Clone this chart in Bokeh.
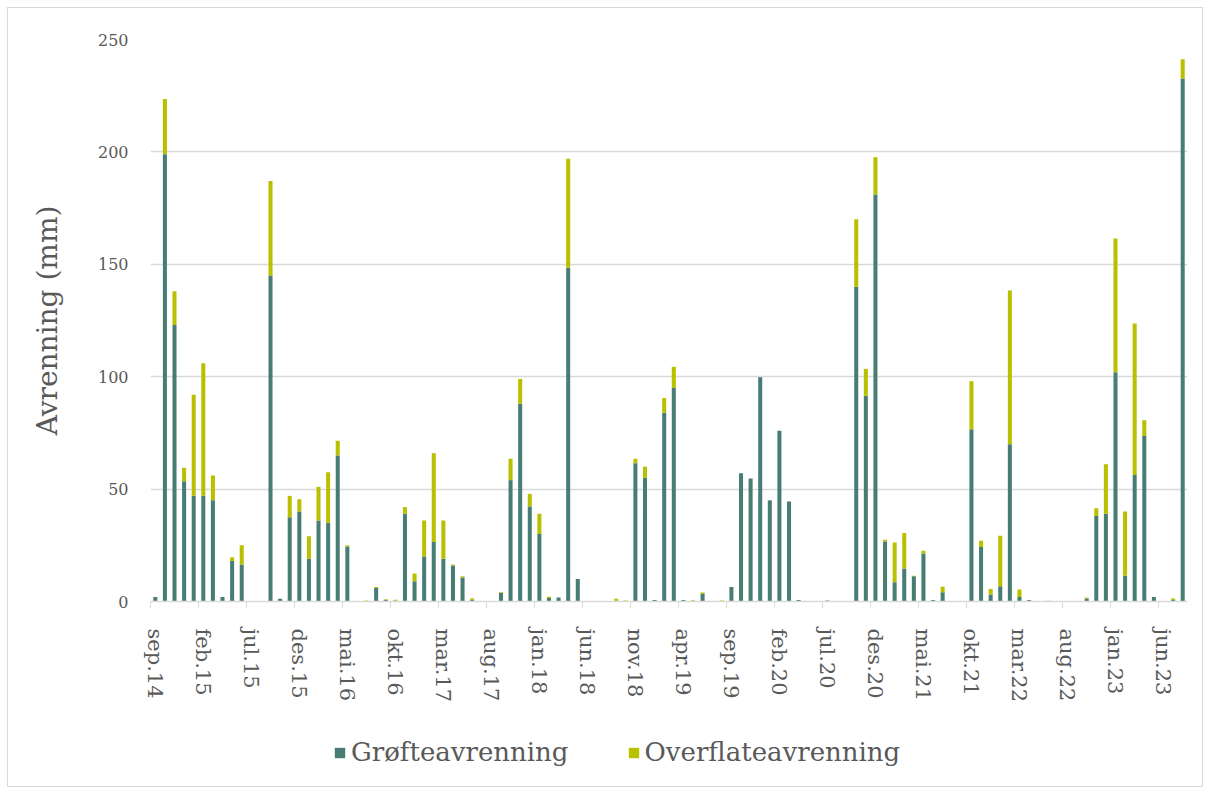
from bokeh.plotting import figure
from bokeh.layouts import column
from bokeh.models import Range1d, FixedTicker, Legend, LegendItem, ColumnDataSource
from bokeh.embed import file_html
from bokeh.resources import INLINE

# Monthly runoff (mm), sep.14 .. aug.23 (108 months)
grofte = [
    2.0, 199.0, 123.0, 53.5, 47.0, 47.0, 45.0, 2.0, 18.0, 16.5,
    0.0, 0.0, 145.0, 1.2, 37.5, 40.0, 19.0, 36.0, 35.0, 65.0,
    24.5, 0.0, 0.0, 6.0, 0.8, 0.5, 39.0, 9.0, 20.0, 26.5,
    19.0, 16.0, 10.7, 0.8, 0.0, 0.0, 3.8, 54.0, 88.0, 42.3,
    30.0, 1.6, 1.8, 148.5, 10.0, 0.0, 0.0, 0.0, 0.2, 0.0,
    61.5, 55.0, 0.7, 84.0, 95.0, 0.7, 0.3, 3.3, 0.0, 0.0,
    6.4, 57.0, 54.7, 99.8, 45.0, 76.0, 44.5, 0.7, 0.0, 0.0,
    0.5, 0.0, 0.0, 140.0, 91.5, 181.0, 26.7, 8.6, 14.7, 11.2,
    21.4, 0.7, 4.1, 0.0, 0.0, 76.6, 24.2, 3.1, 6.8, 70.0,
    2.0, 0.7, 0.0, 0.0, 0.0, 0.0, 0.0, 1.3, 38.0, 39.0,
    102.0, 11.5, 56.3, 73.6, 2.0, 0.0, 0.7, 232.6,
]
overflate = [
    0.0, 24.5, 15.0, 6.0, 45.0, 59.0, 11.0, 0.0, 1.7, 8.5,
    0.0, 0.0, 42.0, 0.0, 9.5, 5.5, 10.0, 15.0, 22.5, 6.5,
    0.5, 0.0, 0.5, 0.5, 0.2, 0.3, 3.0, 3.5, 16.0, 39.5,
    17.0, 0.5, 0.5, 0.6, 0.0, 0.0, 0.3, 9.5, 11.0, 5.6,
    9.0, 0.5, 0.0, 48.5, 0.0, 0.0, 0.0, 0.0, 1.0, 0.5,
    2.0, 5.0, 0.0, 6.5, 9.4, 0.0, 0.3, 0.7, 0.0, 0.4,
    0.0, 0.0, 0.0, 0.0, 0.0, 0.0, 0.0, 0.0, 0.0, 0.0,
    0.0, 0.0, 0.0, 30.0, 12.0, 16.6, 0.8, 17.6, 15.8, 0.3,
    1.2, 0.0, 2.5, 0.0, 0.0, 21.4, 2.8, 2.5, 22.5, 68.4,
    3.3, 0.0, 0.0, 0.3, 0.0, 0.0, 0.0, 0.5, 3.5, 22.0,
    59.5, 28.5, 67.4, 7.0, 0.0, 0.0, 0.6, 8.6,
]
month_index = list(range(len(grofte)))

tick_labels = ["sep.14", "feb.15", "jul.15", "des.15", "mai.16", "okt.16",
               "mar.17", "aug.17", "jan.18", "jun.18", "nov.18", "apr.19",
               "sep.19", "feb.20", "jul.20", "des.20", "mai.21", "okt.21",
               "mar.22", "aug.22", "jan.23", "jun.23"]
tick_step = 5
y_ticks = [0, 50, 100, 150, 200, 250]
series_names = ["Grøfteavrenning", "Overflateavrenning"]

FONT = "DejaVu Serif"
TEXT = "#595959"
GRID = "#D9D9D9"
TEAL = "#477D74"
LIME = "#B9C000"

n = len(month_index)
major = list(range(0, n, tick_step))
minor = [m - 0.5 for m in major]

W = 1194
p = figure(width=W, height=720, output_backend="svg", toolbar_location=None,
           x_range=Range1d(-0.5, n - 0.5), y_range=Range1d(0, 250),
           min_border_left=142, min_border_right=15, min_border_top=31,
           min_border_bottom=127, background_fill_color="white",
           border_fill_color="white", outline_line_color=None)

source = ColumnDataSource(dict(x=month_index, g=grofte, o=overflate))
rs = p.vbar_stack(["g", "o"], x="x", width=0.42, color=[TEAL, LIME],
                  line_color=None, source=source)

# x axis
xa = p.xaxis[0]
xa.ticker = FixedTicker(ticks=major, minor_ticks=minor)
xa.major_label_overrides = {m: lab for m, lab in zip(major, tick_labels)}
xa.major_label_orientation = "vertical"
xa.major_tick_out = 0
xa.major_tick_in = 0
xa.minor_tick_out = 7
xa.minor_tick_in = 0
xa.minor_tick_line_color = GRID
xa.axis_line_color = GRID
xa.axis_line_width = 1.5
xa.major_label_standoff = 20
xa.major_label_text_font = FONT
xa.major_label_text_font_size = "21px"
xa.major_label_text_color = TEXT

# y axis
ya = p.yaxis[0]
ya.ticker = FixedTicker(ticks=y_ticks)
ya.axis_line_color = None
ya.major_tick_line_color = None
ya.minor_tick_line_color = None
ya.major_tick_out = 0
ya.major_tick_in = 0
ya.minor_tick_out = 0
ya.major_label_standoff = 22
ya.major_label_text_font = FONT
ya.major_label_text_font_size = "16px"
ya.major_label_text_color = TEXT
ya.axis_label = "Avrenning (mm)"
ya.axis_label_text_font = FONT
ya.axis_label_text_font_size = "28px"
ya.axis_label_text_font_style = "normal"
ya.axis_label_text_color = TEXT
ya.axis_label_standoff = 31

p.xgrid.grid_line_color = None
p.ygrid.ticker = FixedTicker(ticks=y_ticks)
p.ygrid.grid_line_color = GRID
p.ygrid.grid_line_width = 1.5

# legend strip below the chart (its frame is aligned with the chart's frame)
p2 = figure(width=W, height=58, output_backend="svg", toolbar_location=None,
            x_range=Range1d(0, 1), y_range=Range1d(0, 1),
            min_border=0, outline_line_color=None,
            background_fill_color="white", border_fill_color="white")
p2.axis.visible = False
p2.grid.visible = False
lg0 = p2.vbar(x=[0.5], top=[0], bottom=[0], width=0, fill_color=TEAL, line_color=None)
lg1 = p2.vbar(x=[0.5], top=[0], bottom=[0], width=0, fill_color=LIME, line_color=None)
legend = Legend(items=[LegendItem(label=series_names[0], renderers=[lg0]),
                       LegendItem(label=series_names[1], renderers=[lg1])],
                orientation="horizontal", location=(183, 19),
                label_text_font=FONT, label_text_font_size="26px",
                label_text_color=TEXT, glyph_width=13, glyph_height=13,
                label_standoff=5, spacing=58, padding=0, margin=0,
                border_line_color=None, background_fill_alpha=0)
p2.add_layout(legend)

layout = column(p, p2, spacing=0, margin=(7, 0, 0, 7),
                styles={"border": "1px solid #D9D9D9", "background": "white"})

open("out.html", "w").write(file_html(layout, INLINE))
